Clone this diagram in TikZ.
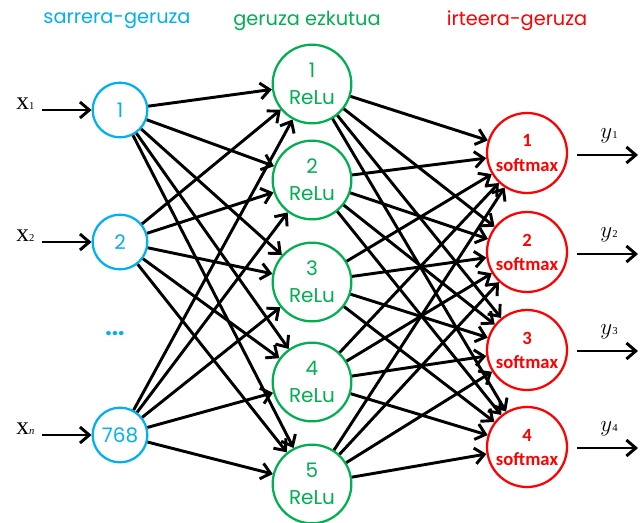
\documentclass[tikz,border=0pt]{standalone}
\usepackage{fontspec}
\setmainfont{Liberation Serif}
\newfontfamily\geofont{Poppins}
\newfontfamily\carlitofont{Carlito}
\usetikzlibrary{arrows.meta}
\definecolor{incol}{RGB}{0,176,240}
\definecolor{hidcol}{RGB}{0,176,80}
\definecolor{outcol}{RGB}{255,0,0}
\tikzset{
  inn/.style={circle, draw=incol, line width=1.7pt, minimum size=41pt, inner sep=0pt, text=incol, font=\geofont\fontsize{15}{15}\selectfont},
  hid/.style={circle, draw=hidcol, line width=1.7pt, minimum size=59pt, inner sep=0pt, text=hidcol, align=center, font=\geofont\fontsize{15}{20}\selectfont},
  outn/.style={circle, draw=outcol, line width=1.7pt, minimum size=60pt, inner sep=0pt, text=outcol, align=center, font=\carlitofont\bfseries\fontsize{14}{18}\selectfont},
  conn/.style={line width=2.2pt, -{Straight Barb[length=7pt,width=12pt,line width=2.2pt]}},
  head/.style={font=\geofont\fontsize{14.5}{14.5}\selectfont},
}
\begin{document}
\begin{tikzpicture}[x=0.75pt,y=-0.75pt]
\useasboundingbox (0,0) rectangle (641,522);
% headers
\node[head, text=incol] (h1) at (117,21) {sarrera-geruza};
\node[head, text=hidcol] (h2) at (307,21) {geruza ezkutua};
\node[head, text=outcol] (h3) at (517,21) {irteera-geruza};
% input
\node[inn] (i1) at (120,110) {1};
\node[inn] (i2) at (120,242) {2};
\node[inn] (i3) at (120,435) {768};
\node[text=incol, font=\geofont\bfseries\fontsize{17}{17}\selectfont] (dots) at (115,334) {...};
% hidden
\node[hid] (h-1) at (312,84) {1\\ReLu};
\node[hid] (h-2) at (312,180) {2\\ReLu};
\node[hid] (h-3) at (312,282) {3\\ReLu};
\node[hid] (h-4) at (312,382) {4\\ReLu};
\node[hid] (h-5) at (312,484) {5\\ReLu};
% output
\node[outn] (o1) at (527,153) {1\\softmax};
\node[outn] (o2) at (527,252) {2\\softmax};
\node[outn] (o3) at (527,350) {3\\softmax};
\node[outn] (o4) at (527,447) {4\\softmax};
% connections
\foreach \i in {i1,i2,i3}{
  \foreach \h in {h-1,h-2,h-3,h-4,h-5}{
    \draw[conn] (\i) -- (\h);
  }
}
\foreach \h in {h-1,h-2,h-3,h-4,h-5}{
  \foreach \o in {o1,o2,o3,o4}{
    \draw[conn] (\h) -- (\o);
  }
}
% input arrows
\foreach \k/\lab/\y in {1/x{\footnotesize 1}/104, 2/x{\footnotesize 2}/236, 3/x{\footnotesize\itshape n}/429}{
  \coordinate (xs\k) at (42,\y+6);
  \node[font=\fontsize{19}{19}\selectfont, anchor=east, inner sep=1pt] (xl\k) at (36,\y) {\lab};
  \draw[conn] (xs\k) -- (i\k);
}
% output arrows
\foreach \k/\y in {1/155, 2/254, 3/351, 4/448}{
  \coordinate (ye\k) at (638,\y);
  \coordinate (ys\k) at (577,\y);
  \draw[conn] (ys\k) -- (ye\k);
  \node[font=\fontsize{19}{19}\selectfont] (yl\k) at (609,\y-19) {$y${\footnotesize\k}};
}
\end{tikzpicture}
\end{document}
